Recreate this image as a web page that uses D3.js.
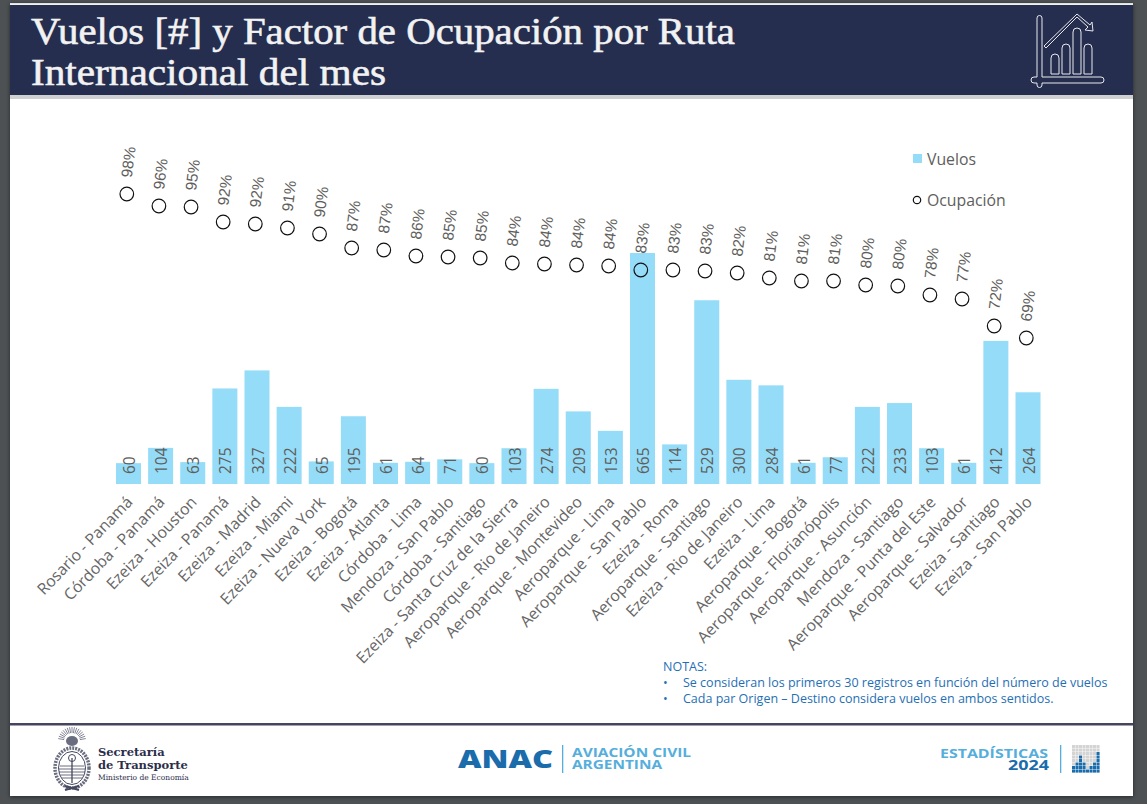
<!DOCTYPE html>
<html><head><meta charset="utf-8">
<script src="https://cdn.jsdelivr.net/npm/d3@7/dist/d3.min.js"></script>
<style>html,body{margin:0;padding:0;background:#4d5153;overflow:hidden}svg{display:block}</style>
</head><body><div id="chart"></div>
<script>
const routes = ["Rosario - Panamá","Córdoba - Panamá","Ezeiza - Houston","Ezeiza - Panamá","Ezeiza - Madrid","Ezeiza - Miami","Ezeiza - Nueva York","Ezeiza - Bogotá","Ezeiza - Atlanta","Córdoba - Lima","Mendoza - San Pablo","Córdoba - Santiago","Ezeiza - Santa Cruz de la Sierra","Aeroparque - Rio de Janeiro","Aeroparque - Montevideo","Aeroparque - Lima","Aeroparque - San Pablo","Ezeiza - Roma","Aeroparque - Santiago","Ezeiza - Rio de Janeiro","Ezeiza - Lima","Aeroparque - Bogotá","Aeroparque - Florianópolis","Aeroparque - Asunción","Mendoza - Santiago","Aeroparque - Punta del Este","Aeroparque - Salvador","Ezeiza - Santiago","Ezeiza - San Pablo"];
const vuelos = [60,104,63,275,327,222,65,195,61,64,71,60,103,274,209,153,665,114,529,300,284,61,77,222,233,103,61,412,264];
const ocupacion = [98,95.6,95.4,92.4,92,91.2,90,87.2,86.8,85.6,85.4,85.2,84.2,84,83.8,83.6,82.8,82.8,82.6,82.2,81.2,80.6,80.6,79.8,79.6,77.8,77,71.6,69.2];
const titleLines = ["Vuelos [#] y Factor de Ocupación por Ruta","Internacional del mes"];
const titleWidths = [704,355];
const notes = ["Se consideran los primeros 30 registros en función del número de vuelos","Cada par Origen – Destino considera vuelos en ambos sentidos."];

const W=1147,H=804;
const svg=d3.select("#chart").append("svg").attr("width",W).attr("height",H);
const defs=svg.append("defs");
const f=defs.append("filter").attr("id","sh").attr("x","-5%").attr("y","-5%").attr("width","110%").attr("height","110%");
f.append("feDropShadow").attr("dx",0).attr("dy",1).attr("stdDeviation",2).attr("flood-opacity",0.5);

svg.append("rect").attr("width",W).attr("height",H).attr("fill","#4d5153");
svg.append("rect").attr("x",10).attr("y",3).attr("width",1123).attr("height",793).attr("fill","#fff").attr("filter","url(#sh)");
svg.append("rect").attr("x",10).attr("y",3).attr("width",1123).attr("height",1.5).attr("fill","#dfe0e2");
svg.append("rect").attr("x",10).attr("y",95).attr("width",1123).attr("height",4).attr("fill","#cfd0d2");
svg.append("rect").attr("x",10).attr("y",5).attr("width",1123).attr("height",90).attr("fill","#252e4f");
svg.append("rect").attr("x",10).attr("y",723).attr("width",1123).attr("height",2.5).attr("fill","#45455f");

svg.append("g").selectAll("text").data(titleLines).join("text")
  .attr("x",31).attr("y",(d,i)=>44+i*41)
  .attr("textLength",(d,i)=>titleWidths[i]).attr("lengthAdjust","spacingAndGlyphs")
  .attr("font-family","'Liberation Serif'").attr("font-size",38.5).attr("fill","#f2f2f2")
  .attr("stroke","#f2f2f2").attr("stroke-width",0.6).text(d=>d);

// header icon
const ic=svg.append("g").attr("fill","none").attr("stroke","#e8e8ec").attr("stroke-width",1);
ic.append("path").attr("d","M1037 18a2.5 2.5 0 0 1 5 0V77H1101a3 3 0 0 1 0 6H1042V85a2.5 2.5 0 0 1-5 0V83H1034a3 3 0 0 1 0-6H1037Z");
[[1051,74,54],[1062,74,44],[1073,74,28],[1084,74,44]].forEach(([x,b,t])=>{
  ic.append("path").attr("d",`M${x} ${b}V${t+4}a4 4 0 0 1 8 0V${b}Z`);
});
ic.append("path").attr("d","M1044 46L1077 14L1090 25L1092 22L1093 31L1085 30L1088 27L1077 17L1046 48Z");

const x=d3.scalePoint().domain(routes).range([128.5,1028]);
const circleShift=-1.7;
const y=d3.scaleLinear().domain([0,665]).range([484,253]);
const yo=d3.scaleLinear().domain([69.2,98]).range([338,194]);
const grey="#605e5c", bw=25;

const marks=svg.append("g");
marks.selectAll("rect").data(routes).join("rect")
  .attr("x",d=>x(d)-bw/2).attr("width",bw)
  .attr("y",(d,i)=>y(vuelos[i])).attr("height",(d,i)=>y(0)-y(vuelos[i])).attr("fill","#94dcf8");
marks.selectAll("text.v").data(routes).join("text").attr("class","v")
  .attr("transform",d=>`translate(${x(d)+6.5},474) rotate(-90)`)
  .attr("font-family","'Open Sans'").attr("font-size",15.5).attr("fill",grey)
  .text((d,i)=>vuelos[i]);
marks.selectAll("circle").data(routes).join("circle")
  .attr("cx",d=>x(d)+circleShift).attr("cy",(d,i)=>yo(ocupacion[i])).attr("r",6.8)
  .attr("fill","none").attr("stroke","#111").attr("stroke-width",1.2);
marks.selectAll("text.o").data(routes).join("text").attr("class","o")
  .attr("transform",(d,i)=>`translate(${x(d)+circleShift+5},${yo(ocupacion[i])-16}) rotate(-83)`)
  .attr("font-family","'Liberation Sans'").attr("font-size",15.5).attr("fill",grey)
  .text((d,i)=>d3.format(".0f")(ocupacion[i])+"%");

const ax=svg.append("g").attr("transform","translate(0,484)").call(d3.axisBottom(x).tickSize(0).tickPadding(0));
ax.select(".domain").remove();
ax.selectAll("text").attr("font-family","'Open Sans'").attr("font-size",15.8).attr("fill","#666")
  .attr("text-anchor","end").attr("dy",0).attr("y",0)
  .attr("transform","translate(4.5,19) rotate(-46)");

// legend
svg.append("rect").attr("x",913).attr("y",154).attr("width",9).attr("height",9).attr("fill","#94dcf8");
svg.append("circle").attr("cx",917).attr("cy",200).attr("r",3.7).attr("fill","none").attr("stroke","#111").attr("stroke-width",1.2);
svg.selectAll("text.lg").data(["Vuelos","Ocupación"]).join("text").attr("class","lg")
  .attr("x",927).attr("y",(d,i)=>165+i*41).attr("font-family","'Open Sans'").attr("font-size",15.8).attr("fill",grey).text(d=>d);

// notes
const nc="#1f6fb5";
svg.append("text").attr("x",663).attr("y",671).attr("font-family","'Open Sans'").attr("font-size",12.5).attr("fill",nc).text("NOTAS:");
notes.forEach((n,i)=>{
  svg.append("text").attr("x",663).attr("y",687+i*16).attr("font-family","'Open Sans'").attr("font-size",12.5).attr("fill",nc).text("•");
  svg.append("text").attr("x",683).attr("y",687+i*16).attr("font-family","'Open Sans'").attr("font-size",12.5).attr("fill",nc).text(n);
});

// footer left: emblem + text
const em=svg.append("g").attr("fill","none").attr("stroke","#45485f");
d3.range(-80,81,10).forEach(a=>{
  const r=a*Math.PI/180;
  em.append("line").attr("x1",72+8*Math.sin(r)).attr("y1",741-8*Math.cos(r)).attr("x2",72+14*Math.sin(r)).attr("y2",741-14*Math.cos(r)).attr("stroke-width",0.9).attr("opacity",0.75);
});
em.append("ellipse").attr("cx",72).attr("cy",741).attr("rx",6).attr("ry",5).attr("fill","#45485f").attr("stroke","none").attr("opacity",0.8);
em.append("ellipse").attr("cx",72).attr("cy",768).attr("rx",17).attr("ry",20).attr("stroke-width",3.5).attr("stroke-dasharray","2 1").attr("opacity",0.8);
em.append("ellipse").attr("cx",72).attr("cy",768).attr("rx",13.5).attr("ry",16.5).attr("stroke-width",1);
em.append("path").attr("d","M60 766H84M59 769H85M59 772H85M60 775H84M62 778H82").attr("stroke-width",0.8);
em.append("path").attr("d","M72 758V783").attr("stroke-width",1.3);
em.append("circle").attr("cx",72).attr("cy",758).attr("r",3.5).attr("stroke-width",1);
em.append("path").attr("d","M65 790L79 786M65 786L79 790").attr("stroke-width",2.2);
const tx=[["Secretaría",98,756,11.5,"bold"],["de Transporte",98,769,11.5,"bold"],["Ministerio de Economía",98,780,7.5,"normal"]];
svg.selectAll("text.st").data(tx).join("text").attr("class","st")
  .attr("x",d=>d[1]).attr("y",d=>d[2]).attr("font-size",d=>d[3]).attr("font-weight",d=>d[4])
  .attr("font-family","'DejaVu Serif'").attr("fill","#2b2e4a").text(d=>d[0]);

// footer centre
svg.append("text").attr("x",458).attr("y",768).attr("textLength",95).attr("lengthAdjust","spacingAndGlyphs").attr("font-family","'Open Sans'").attr("font-weight",800).attr("font-size",25.5).attr("fill","#1a6cab").text("ANAC");
svg.append("rect").attr("x",562).attr("y",745).attr("width",1.3).attr("height",28).attr("fill","#55aedb");
svg.selectAll("text.av").data([["AVIACIÓN CIVIL",119],["ARGENTINA",90]]).join("text").attr("class","av")
  .attr("x",572).attr("y",(d,i)=>757+i*11.5).attr("textLength",d=>d[1]).attr("lengthAdjust","spacingAndGlyphs")
  .attr("font-family","'Open Sans'").attr("font-weight",700).attr("font-size",13).attr("fill","#55aedb").text(d=>d[0]);

// footer right
svg.append("text").attr("x",940).attr("y",758).attr("textLength",108).attr("lengthAdjust","spacingAndGlyphs").attr("font-family","'Open Sans'").attr("font-weight",700).attr("font-size",13).attr("fill","#55aedb").text("ESTADÍSTICAS");
svg.append("text").attr("x",1008).attr("y",769.5).attr("textLength",41).attr("lengthAdjust","spacingAndGlyphs").attr("font-family","'Open Sans'").attr("font-weight",700).attr("font-size",14).attr("fill","#1a6cab").text("2024");
svg.append("rect").attr("x",1060).attr("y",745).attr("width",1.3).attr("height",28).attr("fill","#55aedb");
const miniHeights=[2,3,5,3,1,2,3,6];
miniHeights.forEach((h,c)=>d3.range(8).forEach(r=>{
  svg.append("rect").attr("x",1072+c*3.5).attr("y",773-(r+1)*3.5).attr("width",3.1).attr("height",3.1).attr("fill",r<h?"#1a6cab":"#d4d4d4");
}));
</script></body></html>
